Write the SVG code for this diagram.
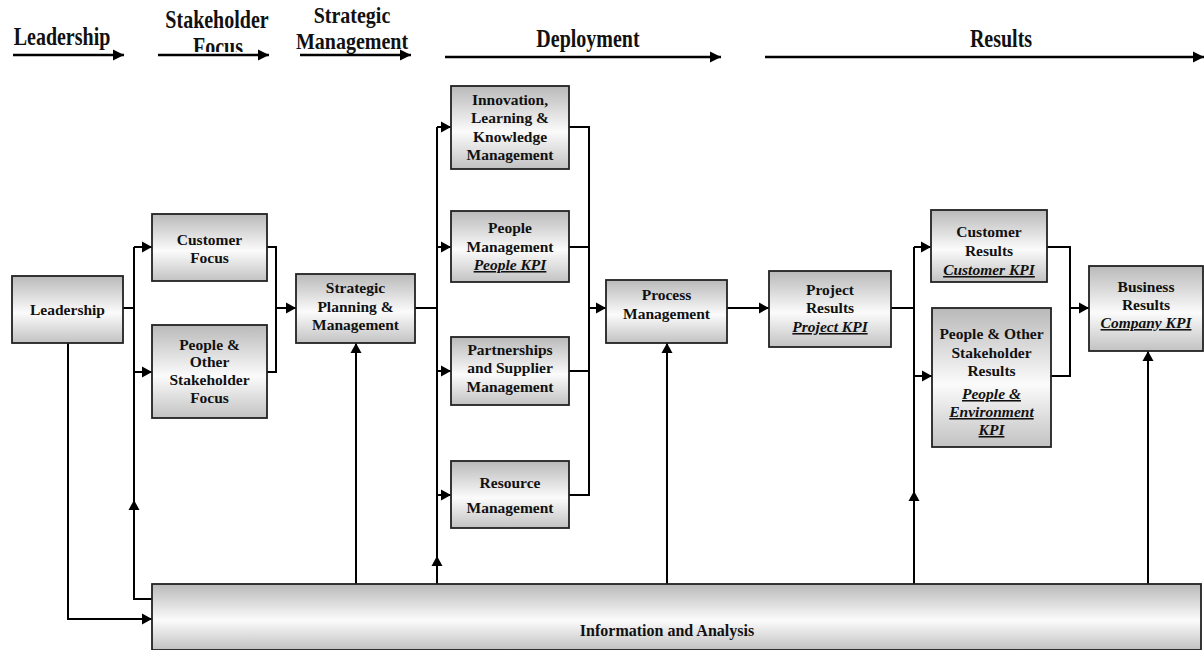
<svg xmlns="http://www.w3.org/2000/svg" width="1204" height="650" viewBox="0 0 1204 650">
<style>
.box{stroke:#222;stroke-width:1.8;fill:url(#g)}
.t{font-family:"Liberation Serif","Times New Roman",serif;font-weight:bold;font-size:15.5px;fill:#111;text-anchor:middle}
.k{font-style:italic;text-decoration:underline}
.h{font-family:"Liberation Serif","Times New Roman",serif;font-weight:bold;font-size:20px;fill:#111;text-anchor:middle}
.c{fill:none;stroke:#000;stroke-width:2}
.ca{fill:none;stroke:#000;stroke-width:2;marker-end:url(#a)}
.ha{fill:none;stroke:#000;stroke-width:2.6;marker-end:url(#ha)}
</style>
<defs>
<linearGradient id="g" x1="0" y1="0" x2="0" y2="1">
<stop offset="0" stop-color="#b9b9b9"/>
<stop offset="0.55" stop-color="#fbfbfb"/>
<stop offset="1" stop-color="#c2c2c2"/>
</linearGradient>
<marker id="a" markerUnits="userSpaceOnUse" markerWidth="11" markerHeight="12" refX="10" refY="6" orient="auto">
<path d="M0,0.5 L10,6 L0,11.5 z" fill="#000"/>
</marker>
<marker id="ha" markerUnits="userSpaceOnUse" markerWidth="12" markerHeight="12" refX="11" refY="6" orient="auto">
<path d="M0,0.5 L11,6 L0,11.5 z" fill="#000"/>
</marker>
<clipPath id="fc"><rect x="150" y="30" width="140" height="22"/></clipPath>
</defs>

<g id="header">
<text class="h" transform="translate(62,45) scale(1,1.25)">Leadership</text>
<text class="h" transform="translate(217,28) scale(1,1.25)">Stakeholder</text>
<g clip-path="url(#fc)"><text class="h" transform="translate(218,55) scale(1,1.25)">Focus</text></g>
<text class="h" transform="translate(352,23) scale(1,1.2)">Strategic</text>
<text class="h" transform="translate(352,49) scale(1,1.2)">Management</text>
<text class="h" transform="translate(588,47) scale(1,1.25)">Deployment</text>
<text class="h" transform="translate(1001,47) scale(1,1.25)">Results</text>
<path class="ha" d="M13,55 H124"/>
<path class="ha" d="M158,55 H269"/>
<path class="ha" d="M300,55 H411"/>
<path class="ha" d="M445,57 H721"/>
<path class="ha" d="M765,57 H1204"/>
</g>

<g id="connectors">
<path class="c" d="M123,308 H134 M134,247 V599"/>
<path class="ca" d="M134,247 H152"/>
<path class="ca" d="M134,372 H152"/>
<path class="ca" d="M152,599 H134 V500"/>
<path class="ca" d="M68,343 V619 H152"/>
<path class="c" d="M267,247 H276 V372 H267"/>
<path class="ca" d="M276,308 H296"/>
<path class="ca" d="M356,584 V343"/>
<path class="c" d="M415,308 H437 M437,127 V584"/>
<path class="ca" d="M437,127 H451"/>
<path class="ca" d="M437,247 H451"/>
<path class="ca" d="M437,371 H451"/>
<path class="ca" d="M437,495 H451"/>
<path class="ca" d="M437,584 V556"/>
<path class="c" d="M569,127 H589 V495 H569 M569,247 H589 M569,371 H589"/>
<path class="ca" d="M589,308 H606"/>
<path class="ca" d="M667,584 V343"/>
<path class="ca" d="M727,308 H769"/>
<path class="c" d="M891,308 H914 M914,247 V584"/>
<path class="ca" d="M914,247 H931"/>
<path class="ca" d="M914,376 H932"/>
<path class="ca" d="M914,584 V491"/>
<path class="c" d="M1047,247 H1070 V376 H1051"/>
<path class="ca" d="M1070,308 H1089"/>
<path class="ca" d="M1148,584 V351"/>
</g>

<g id="leadership">
<rect class="box" x="12" y="276" width="111" height="67"/>
<text class="t" x="67.5" y="315">Leadership</text>
</g>
<g id="customer-focus">
<rect class="box" x="152" y="214" width="115" height="67"/>
<text class="t" x="209.5" y="245">Customer</text>
<text class="t" x="209.5" y="263">Focus</text>
</g>
<g id="people-focus">
<rect class="box" x="152" y="325" width="115" height="93"/>
<text class="t" x="209.5" y="350">People &amp;</text>
<text class="t" x="209.5" y="367">Other</text>
<text class="t" x="209.5" y="385">Stakeholder</text>
<text class="t" x="209.5" y="403">Focus</text>
</g>
<g id="strategic">
<rect class="box" x="296" y="274" width="119" height="69"/>
<text class="t" x="355.5" y="293">Strategic</text>
<text class="t" x="355.5" y="312">Planning &amp;</text>
<text class="t" x="355.5" y="330">Management</text>
</g>
<g id="innovation">
<rect class="box" x="451" y="86" width="118" height="83"/>
<text class="t" x="510" y="105">Innovation,</text>
<text class="t" x="510" y="123">Learning &amp;</text>
<text class="t" x="510" y="142">Knowledge</text>
<text class="t" x="510" y="160">Management</text>
</g>
<g id="people-management">
<rect class="box" x="451" y="211" width="118" height="71"/>
<text class="t" x="510" y="233">People</text>
<text class="t" x="510" y="252">Management</text>
<text class="t k" x="510" y="270">People KPI</text>
</g>
<g id="partnerships">
<rect class="box" x="451" y="337" width="118" height="68"/>
<text class="t" x="510" y="355">Partnerships</text>
<text class="t" x="510" y="373">and Supplier</text>
<text class="t" x="510" y="392">Management</text>
</g>
<g id="resource">
<rect class="box" x="451" y="461" width="118" height="67"/>
<text class="t" x="510" y="488">Resource</text>
<text class="t" x="510" y="513">Management</text>
</g>
<g id="process">
<rect class="box" x="606" y="280" width="121" height="63"/>
<text class="t" x="666.5" y="300">Process</text>
<text class="t" x="666.5" y="319">Management</text>
</g>
<g id="project-results">
<rect class="box" x="769" y="271" width="122" height="76"/>
<text class="t" x="830" y="295">Project</text>
<text class="t" x="830" y="313">Results</text>
<text class="t k" x="830" y="332">Project KPI</text>
</g>
<g id="customer-results">
<rect class="box" x="931" y="210" width="116" height="72"/>
<text class="t" x="989" y="237">Customer</text>
<text class="t" x="989" y="256">Results</text>
<text class="t k" x="989" y="275">Customer KPI</text>
</g>
<g id="people-results">
<rect class="box" x="932" y="308" width="119" height="139"/>
<text class="t" x="991.5" y="339">People &amp; Other</text>
<text class="t" x="991.5" y="358">Stakeholder</text>
<text class="t" x="991.5" y="376">Results</text>
<text class="t k" x="991.5" y="399">People &amp;</text>
<text class="t k" x="991.5" y="417">Environment</text>
<text class="t k" x="991.5" y="435">KPI</text>
</g>
<g id="business-results">
<rect class="box" x="1089" y="266" width="114" height="85"/>
<text class="t" x="1146" y="292">Business</text>
<text class="t" x="1146" y="310">Results</text>
<text class="t k" x="1146" y="328">Company KPI</text>
</g>
<g id="information">
<rect class="box" x="152" y="584" width="1049" height="66"/>
<text class="t" x="667" y="636" style="font-size:16px">Information and Analysis</text>
</g>
</svg>
